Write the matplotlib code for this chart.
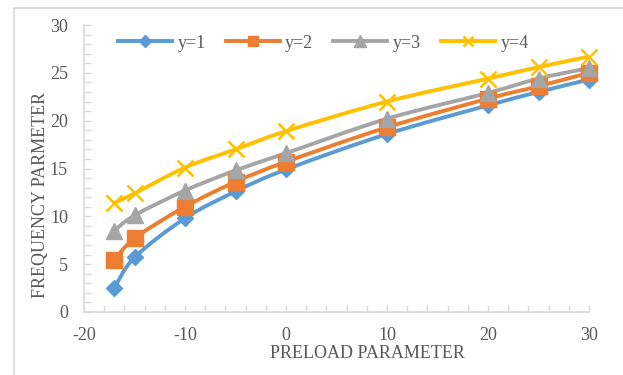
import numpy as np
import matplotlib
matplotlib.use("Agg")
import matplotlib.pyplot as plt
from matplotlib.patches import Rectangle
from matplotlib.path import Path
from matplotlib.patches import PathPatch

# Data
preload = [-17, -15, -10, -5, 0, 10, 20, 25, 30]
y1 = [2.5, 5.7, 9.8, 12.6, 14.9, 18.6, 21.6, 23.0, 24.3]
y2 = [5.4, 7.7, 11.0, 13.6, 15.7, 19.3, 22.3, 23.6, 25.0]
y3 = [8.5, 10.1, 12.7, 14.8, 16.6, 20.2, 22.9, 24.4, 25.5]
y4 = [11.4, 12.4, 15.1, 17.0, 18.9, 22.0, 24.4, 25.6, 26.7]
series_labels = ["y=1", "y=2", "y=3", "y=4"]
x_ticks = [-20, -10, 0, 10, 20, 30]
y_ticks = [0, 5, 10, 15, 20, 25, 30]

colors = ["#5B9BD5", "#ED7D31", "#A5A5A5", "#FFC000"]
markers = ["D", "s", "^", "x"]
msizes = [8.5, 11, 11.5, 11]

plt.rcParams['font.family'] = ['Liberation Serif', 'DejaVu Serif']
plt.rcParams['axes.unicode_minus'] = False
TXT = "#595959"
GRID = "#D9D9D9"

fig = plt.figure(figsize=(6.23, 3.75), dpi=100)
ax = fig.add_axes([84/623, 1-312/375, (589-84)/623, (312-25)/375])


def smooth_path(xs, ys):
    xs = np.asarray(xs, float); ys = np.asarray(ys, float)
    P = np.column_stack([xs, ys])
    n = len(P)
    verts = [P[0]]
    codes = [Path.MOVETO]
    for i in range(n - 1):
        p0 = P[i - 1] if i > 0 else P[i]
        p1 = P[i]
        p2 = P[i + 1]
        p3 = P[i + 2] if i + 2 < n else P[i + 1]
        c1 = p1 + (p2 - p0) / 6.0
        c2 = p2 - (p3 - p1) / 6.0
        verts += [c1, c2, p2]
        codes += [Path.CURVE4] * 3
    return Path(verts, codes)


handles = []
for ys, c, m, ms, lab in zip([y1, y2, y3, y4], colors, markers, msizes, series_labels):
    patch = PathPatch(smooth_path(preload, ys), facecolor='none', edgecolor=c,
                      lw=2.8, capstyle='round', joinstyle='round', zorder=2)
    ax.add_patch(patch)
    mew = 1.8 if m == 'x' else 1.0
    ax.plot(preload, ys, linestyle='none', marker=m, ms=ms, color=c,
            markerfacecolor=c, markeredgecolor=c, mew=mew, zorder=3, clip_on=False)
    lh, = ax.plot([], [], color=c, lw=2.8, marker=m, ms=ms * 0.7, mew=mew,
                  markerfacecolor=c, markeredgecolor=c, label=lab)
    handles.append(lh)

ax.set_xlim(-20, 30)
ax.set_ylim(0, 30)
ax.set_xticks(x_ticks)
ax.set_yticks(y_ticks)
ax.set_xticks(np.arange(-20, 31, 2), minor=True)
ax.set_yticks(np.arange(0, 31, 1), minor=True)

for s in ['top', 'right']:
    ax.spines[s].set_visible(False)
for s in ['left', 'bottom']:
    ax.spines[s].set_color(GRID)
    ax.spines[s].set_linewidth(1.2)

ax.tick_params(which='both', direction='in', color=GRID, width=1, length=5)
ax.tick_params(axis='y', which='major', pad=11.5, labelsize=13, labelcolor=TXT)
ax.tick_params(axis='x', which='major', pad=11, labelsize=13, labelcolor=TXT)

ax.set_xlabel("PRELOAD PARAMETER", fontsize=13, color=TXT)
ax.set_ylabel("FREQUENCY PARMETER", fontsize=13, color=TXT)
ax.xaxis.set_label_coords((367-84)/505, (312-353)/287)
ax.yaxis.set_label_coords((41-84)/505, (312-195)/287)
ax.xaxis.label.set_va('center')
ax.yaxis.label.set_va('center')

leg = ax.legend(handles=handles, loc='center left', bbox_to_anchor=((118-84)/505, (312-43)/287),
                ncol=4, frameon=False, fontsize=13, handlelength=3.0, handletextpad=0.3,
                columnspacing=1.1, borderpad=0, borderaxespad=0)
for t in leg.get_texts():
    t.set_color(TXT)

fig.patches.append(Rectangle((14/623, -0.1), 2, (375-8)/375 + 0.1, transform=fig.transFigure,
                             fill=False, edgecolor=GRID, lw=1.2, clip_on=False))

fig.savefig("out.png", dpi=100)
